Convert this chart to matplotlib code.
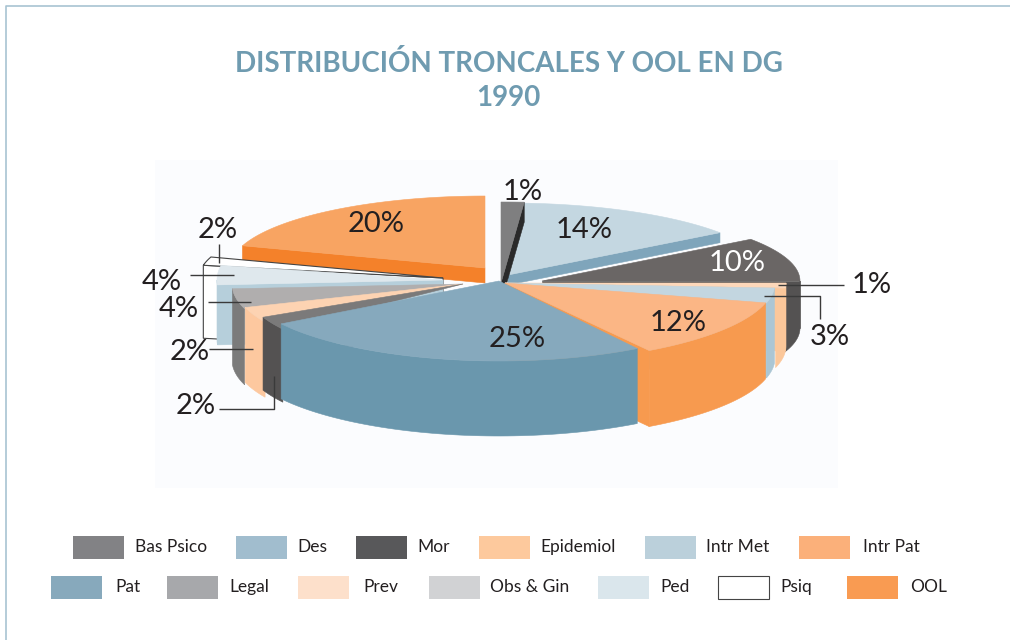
import numpy as np
import matplotlib
matplotlib.use("Agg")
import matplotlib.pyplot as plt
from matplotlib.patches import Polygon, Rectangle

# dati
categorie = ["Bas Psico", "Des", "Mor", "Epidemiol", "Intr Met", "Intr Pat", "Pat",
             "Legal", "Prev", "Obs & Gin", "Ped", "Psiq", "OOL"]
valori = [1, 14, 10, 1, 3, 12, 25, 2, 2, 4, 4, 2, 20]
titolo = "DISTRIBUCIÓN TRONCALES Y OOL EN DG\n1990"

# colori: faccia superiore, parete, legenda
col_top = ["#7f7f80", "#c4d7e1", "#6a6665", "#fdd8ba", "#c3d6e0", "#fbb685", "#86a9bd",
           "#7b7a7a", "#fdd3b2", "#b0aeae", "#dfe8ed", "#ffffff", "#f8a462"]
col_wall = ["#2a2a2a", "#7fa5bb", "#545252", "#fbc79a", "#abc6d4", "#f79a4f", "#6a97ad",
            "#545252", "#fdc89f", "#7b7b7b", "#b6cfdb", "#ffffff", "#f4812a"]
col_leg = ["#828285", "#a1bdce", "#58585a", "#fdc99d", "#bbd0db", "#fbb07a", "#87a9bc",
           "#a7a8ab", "#fde0cb", "#d1d2d4", "#dae6ec", "#ffffff", "#f99b52"]

# geometria di ogni fetta, in pixel (torta esplosa, prospettiva finta)
cx = [501, 508, 542, 505, 505, 505, 499, 463, 463, 463, 443, 443, 485]
cy = [283, 275, 281, 283, 283, 283, 281, 284, 284, 284, 280, 278, 268]
rx = [370, 262, 258, 281, 270, 269, 258, 221, 229, 231, 226, 244, 255]
ry = [81, 72, 71, 80, 80, 80, 80, 78, 76, 76, 78, 68, 72]
depth = [20, 10, 47, 63, 75, 76, 75, 73, 75, 76, 60, 73, 15]
wall_extra = [0, 0, 20, 12, 0, 0, 0, 0, 0, 0, 0, 0, 0]
# sovrapposizione sotto la fetta successiva, per non lasciare buchi
overlap = [0, 0, 0, 0, 0, 0, 0, 3, 5, 1, 0, 0, 0]
draw_order = [12, 1, 0, 2, 11, 10, 9, 8, 7, 3, 4, 5, 6]

# etichette: posizione del testo, colore
label_xy = [(523, 192), (584, 230), (737, 263), (872, 285), (830, 337), (678, 323), (517, 339),
            (196, 406), (190, 352), (179, 309), (162, 282), (218, 230), (376, 224)]
label_col = ["#231f20"] * 13
label_col[2] = "#ffffff"

leader_lines = [
    ([219, 219], [244, 263]),
    ([190, 234], [275, 275]),
    ([208, 251], [302, 302]),
    ([209, 253], [349, 349]),
    ([219, 274, 274], [409, 409, 376]),
    ([778, 844], [285, 285]),
    ([764, 820, 820], [296, 296, 319]),
]

# legenda: x del riquadro, x del testo, y del riquadro
leg_box_x = [73, 236, 356, 479, 645, 799, 51, 167, 298, 429, 598, 718, 847]
leg_text_x = [135, 297, 417, 540, 706, 863, 115, 229, 363, 490, 660, 780, 910]
leg_y = [536] * 6 + [576] * 7

FONT = "Lato"


def punto(i, t):
    a = np.radians(t)
    return cx[i] + rx[i] * np.sin(a), cy[i] - ry[i] * np.cos(a)


def arco(i, t0, t1):
    ts = np.linspace(t0, t1, 60)
    return [punto(i, t) for t in ts]


def muro_radiale(i, t):
    x, y = punto(i, t)
    d = depth[i]
    return [(x, y), (cx[i], cy[i]), (cx[i], cy[i] + d), (x, y + d)]


fig = plt.figure(figsize=(10.1, 6.4), dpi=100, facecolor="white")
ax = fig.add_axes([0, 0, 1, 1])
ax.set_xlim(0, 1010)
ax.set_ylim(640, 0)
ax.axis("off")

# cornice e fondo
ax.plot([6, 6, 1010], [640, 5.5, 5.5], color="#a8c3d2", lw=1.2, zorder=1)
ax.add_patch(Rectangle((155, 160), 683, 328, fc="#fbfcfe", ec="none", zorder=1))

ax.text(508.5, 63, titolo.split("\n")[0], ha="center", va="center", fontsize=20,
        fontweight="bold", color="#6f9bb0", family=FONT, zorder=5)
ax.text(508.5, 98, titolo.split("\n")[1], ha="center", va="center", fontsize=20,
        fontweight="bold", color="#6f9bb0", family=FONT, zorder=5)

angoli = np.cumsum([0] + valori) * 3.6
z = 2
for i in draw_order:
    t0, t1 = angoli[i] - overlap[i], angoli[i + 1]
    psiq = categorie[i] == "Psiq"
    ec_w = "#444444" if psiq else col_wall[i]
    ec_t = "#444444" if psiq else col_top[i]
    lw = 0.8 if psiq else 0.4

    # pareti radiali
    if t1 <= 180:
        ax.add_patch(Polygon(muro_radiale(i, t1), fc=col_wall[i], ec=ec_w, lw=lw, zorder=z))
    elif t0 >= 260:
        ax.add_patch(Polygon(muro_radiale(i, t0), fc=col_wall[i], ec=ec_w, lw=lw, zorder=z))

    # parete esterna
    lo = max(t0, 90)
    hi = min(t1, 270) + wall_extra[i]
    if hi > lo:
        alto = arco(i, lo, hi)
        basso = [(x, y + depth[i]) for x, y in alto[::-1]]
        ax.add_patch(Polygon(alto + basso, fc=col_wall[i], ec=ec_w, lw=lw, zorder=z))

    # faccia superiore
    top = [(cx[i], cy[i])] + arco(i, t0, t1)
    ax.add_patch(Polygon(top, fc=col_top[i], ec=ec_t, lw=lw, zorder=z))
    z += 0.01

# linee guida
for xs, ys in leader_lines:
    ax.plot(xs, ys, color="#3a3a3a", lw=1.0, zorder=6, solid_capstyle="butt")

# percentuali
for v, (x, y), c in zip(valori, label_xy, label_col):
    ax.text(x, y, f"{v}%", ha="center", va="center", fontsize=21, color=c,
            family=FONT, zorder=7)

# legenda
for i, nome in enumerate(categorie):
    ec = "#444444" if nome == "Psiq" else "none"
    ax.add_patch(Rectangle((leg_box_x[i], leg_y[i]), 51, 23, fc=col_leg[i], ec=ec,
                           lw=0.8, zorder=5))
    ax.text(leg_text_x[i], leg_y[i] + 11, nome, ha="left", va="center", fontsize=12.5,
            color="#231f20", family=FONT, zorder=5)

fig.savefig("out.png", dpi=100)
